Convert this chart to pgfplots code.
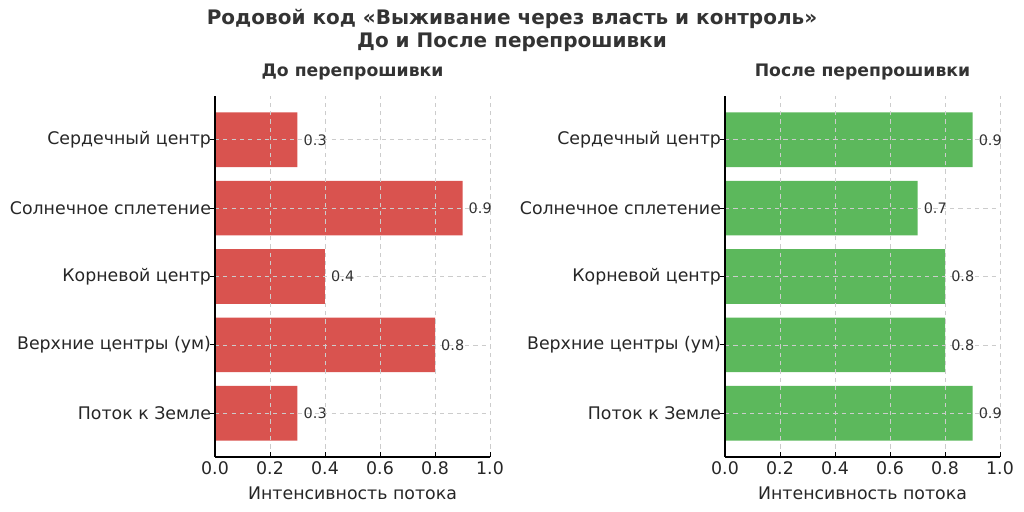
\documentclass[border=0pt]{standalone}
\usepackage{fontspec}
\setmainfont{DejaVu Sans}
\usepackage{pgfplots}
\pgfplotsset{compat=1.18}
\definecolor{redbar}{HTML}{D9534F}
\definecolor{greenbar}{HTML}{5CB85C}
\definecolor{txt}{HTML}{262626}
\definecolor{ttl}{HTML}{333333}
\definecolor{gridc}{HTML}{CCCCCC}
\pgfplotsset{myax/.style={
  scale only axis, width=198pt, height=259.9pt,
  xmin=0, xmax=1, ymin=-0.64, ymax=4.64,
  xtick={0,0.2,0.4,0.6,0.8,1},
  /pgf/number format/assume math mode=true,
  xticklabel style={/pgf/number format/.cd, fixed, fixed zerofill, precision=1},
  ytick={0,1,2,3,4},
  yticklabels={Поток к Земле, Верхние центры (ум), Корневой центр, Солнечное сплетение, Сердечный центр},
  yticklabel style={inner sep=0pt, xshift=0.8pt},
  axis x line*=bottom, axis y line*=left,
  axis line style={black, line width=0.8pt},
  tick align=inside, major tick length=3.5pt,
  tick style={black, line width=0.6pt},
  grid=major, major grid style={dashed, gridc, line width=0.5pt},
  axis on top,
  ticklabel style={font=\fontsize{12.5}{14}\selectfont, text=txt},
  xlabel={Интенсивность потока},
  xlabel style={font=\fontsize{12.5}{14}\selectfont, text=txt, yshift=-1.5pt},
  title style={font=\bfseries\fontsize{12.4}{14}\selectfont, text=ttl, at={(0.5,1)}, anchor=center, yshift=11.5pt},
  xbar, bar width=0.8, bar shift=0pt,
  nodes near coords, point meta=x,
  nodes near coords style={font=\fontsize{10.4}{12}\selectfont, text=ttl, anchor=west, inner sep=0pt, xshift=4.3pt,
    /pgf/number format/.cd, fixed, fixed zerofill, precision=1},
}}
\begin{document}
\begin{tikzpicture}
\path (0,0) rectangle (737.28pt,368.64pt);
\node[font=\bfseries\fontsize{14.4}{16}\selectfont, text=ttl] at (368.64pt,354.9pt) {Родовой код «Выживание через власть и контроль»};
\node[font=\bfseries\fontsize{14.4}{16}\selectfont, text=ttl] at (368.64pt,338.4pt) {До и После перепрошивки};
\begin{axis}[myax, at={(154.8pt,39.6pt)}, anchor=south west, title={До перепрошивки}]
\addplot[fill=redbar, draw=none] coordinates {(0.3,0) (0.8,1) (0.4,2) (0.9,3) (0.3,4)};
\end{axis}
\begin{axis}[myax, at={(522pt,39.6pt)}, anchor=south west, title={После перепрошивки}]
\addplot[fill=greenbar, draw=none] coordinates {(0.9,0) (0.8,1) (0.8,2) (0.7,3) (0.9,4)};
\end{axis}
\end{tikzpicture}
\end{document}
